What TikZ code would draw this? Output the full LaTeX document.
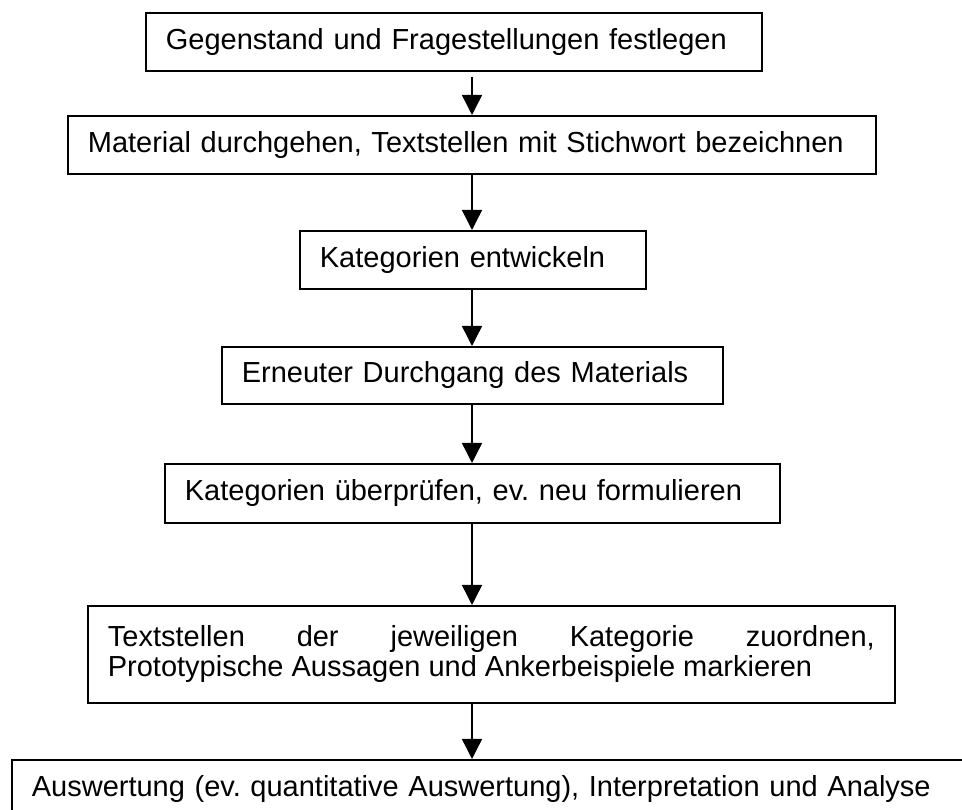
\documentclass[tikz,border=0pt]{standalone}
\usepackage{fontspec}
\setmainfont{Liberation Sans}
\usetikzlibrary{arrows.meta,positioning}
\frenchspacing
\tikzset{
  >={Triangle[length=4mm,width=4mm]},
  % ablauf
  schritt/.style={draw=black,line width=1pt,anchor=north west,inner xsep=0.4cm,
                  inner ysep=0pt,align=left,font=\fontsize{16.5}{17}\selectfont},
  pfeil/.style={->,draw=black,line width=0.8pt},
}
\begin{document}
\begin{tikzpicture}
\clip (0,0) rectangle (19.24,-16.2);
  \coordinate (achse) at (9.44,0);
  \node[schritt,text width=11.52cm,minimum height=1.16cm] (s1) at (2.90,-0.24) {Gegenstand und Fragestellungen festlegen};
  \node[schritt,text width=15.36cm,minimum height=1.16cm] (s2) at (1.34,-2.30) {Material durchgehen, Textstellen mit Stichwort bezeichnen};
  \node[schritt,text width=6.12cm,minimum height=1.16cm] (s3) at (5.98,-4.60) {Kategorien entwickeln};
  \node[schritt,text width=9.22cm,minimum height=1.14cm] (s4) at (4.42,-6.92) {Erneuter Durchgang des Materials};
  \node[schritt,text width=11.50cm,minimum height=1.18cm] (s5) at (3.28,-9.26) {Kategorien überprüfen, ev. neu formulieren};
  \node[schritt,text width=15.34cm,minimum height=1.94cm,align=justify] (s6) at (1.74,-12.10)
    {\hyphenpenalty=10000 Textstellen der jeweiligen Kategorie zuordnen,\linebreak Prototypische Aussagen und Ankerbeispiele markieren};
  \node[schritt,text width=18.58cm,minimum height=1.16cm] (s7) at (0.22,-15.18) {Auswertung (ev. quantitative Auswertung), Interpretation und Analyse};
  \draw[pfeil,shorten <=1mm] (s1.south -| achse) -- (s2.north -| achse);
  \draw[pfeil] (s2.south -| achse) -- (s3.north -| achse);
  \draw[pfeil] (s3.south -| achse) -- (s4.north -| achse);
  \draw[pfeil] (s4.south -| achse) -- (s5.north -| achse);
  \draw[pfeil] (s5.south -| achse) -- (s6.north -| achse);
  \draw[pfeil] (s6.south -| achse) -- (s7.north -| achse);
\end{tikzpicture}
\end{document}
